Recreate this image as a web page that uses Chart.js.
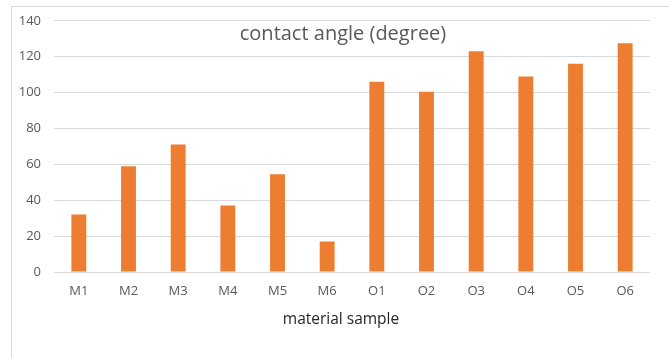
<!DOCTYPE html>
<html>
<head>
<meta charset="utf-8">
<script src="https://cdn.jsdelivr.net/npm/chart.js@4/dist/chart.umd.min.js"></script>
<style>
  html, body { margin: 0; padding: 0; background: #fff; overflow: hidden; }
  #wrap { position: relative; width: 669px; height: 358px; }
  #frame { position: absolute; left: 11px; top: 6px; width: 800px; height: 500px;
           border: 1px solid #d9d9d9; box-sizing: border-box; pointer-events: none; }
  canvas { position: absolute; left: 0; top: 0; }
</style>
</head>
<body>
<div id="wrap">
  <div id="frame"></div>
  <canvas id="c" width="669" height="358"></canvas>
</div>
<script>
// Samples and their measured contact angles
const categories = ['M1', 'M2', 'M3', 'M4', 'M5', 'M6', 'O1', 'O2', 'O3', 'O4', 'O5', 'O6'];
const contactAngle = [32, 59, 71, 37, 54.5, 17, 106, 100.5, 123, 109, 116, 127.5];
const chartTitle = 'contact angle (degree)';
const xTitle = 'material sample';

// Title sits inside the plot area; axis caption below the tick labels
const overlayText = {
  id: 'overlayText',
  afterDraw(chart) {
    const ctx = chart.ctx;
    ctx.save();
    ctx.textAlign = 'center';
    ctx.textBaseline = 'middle';
    ctx.fillStyle = '#595959';
    ctx.font = '20px "Open Sans", sans-serif';
    ctx.fillText(chartTitle, 343, 34);
    ctx.fillStyle = '#262626';
    ctx.font = '15.5px "Open Sans", sans-serif';
    ctx.fillText(xTitle, 341, 320);
    ctx.restore();
  }
};

new Chart(document.getElementById('c'), {
  type: 'bar',
  data: {
    labels: categories,
    datasets: [{
      data: contactAngle,
      backgroundColor: '#ED7D31',
      borderWidth: 0,
      categoryPercentage: 1,
      barPercentage: 0.3
    }]
  },
  options: {
    responsive: false,
    animation: false,
    layout: { autoPadding: false, padding: { top: 15, right: 19, left: 0, bottom: 0 } },
    plugins: { legend: { display: false }, title: { display: false }, tooltip: { enabled: false } },
    scales: {
      x: {
        grid: { display: false, drawTicks: false },
        border: { display: false },
        ticks: { color: '#595959', font: { family: '"Open Sans", sans-serif', size: 13 }, padding: 11, maxRotation: 0 },
        afterFit(scale) { scale.height = 86; }
      },
      y: {
        min: 0, max: 140,
        grid: { color: '#d9d9d9', lineWidth: 1, drawTicks: false },
        border: { display: false },
        ticks: { stepSize: 20, color: '#595959', font: { family: '"Open Sans", sans-serif', size: 13 }, padding: 13 },
        afterFit(scale) { scale.width = 54; }
      }
    }
  },
  plugins: [overlayText]
});
</script>
</body>
</html>
